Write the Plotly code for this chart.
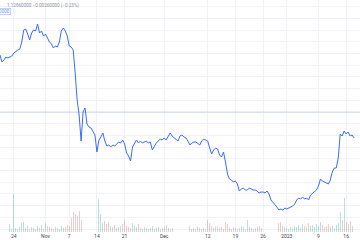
import pandas as pd
import plotly.graph_objects as go

# 12-hour closes (level units, axis hidden in the crop)
close = [185,178,180,183,182,183,184,187,189,190,
         191,198,210,211,206,200,207,210,209,216,
         207,209,204,206,202,198,196,192,194,193,
         198,209,212,209,204,194,193,190,167,140,
         125,99,128,132,116,113,112,108,105,88,
         100,103,107,99,94,95,93,95,94,96,
         98,97,100,96,87,84,79,93,96,100,
         97,99,97,98,99,97,98,90,94,97,
         99,101,100,102,100,104,107,104,102,100,
         99,104,105,103,102,99,95,97,98,98,
         96,95,99,101,100,99,92,86,90,92,
         91,85,83,88,78,66,61,60,58,59,
         56,49,51,52,50,50,52,51,50,50,
         49,47,48,48,47,49,46,40,38,35,
         33,30,31,30,32,31,32,33,34,36,
         40,42,41,43,41,42,40,45,47,48,
         50,54,61,59,58,57,56,60,68,72,
         72,82,106,104,109,106,108,104,105,102]

volume = [3,2,4,2,6,8,3,38,4,3,
          5,9,10,4,6,3,5,4,3,6,
          4,7,3,9,6,5,4,3,5,4,
          3,6,4,5,7,6,14,20,18,16,
          21,12,9,14,10,8,7,6,30,40,
          33,18,9,11,8,10,6,5,7,4,
          5,6,8,12,6,5,4,9,6,5,
          8,4,3,5,4,3,4,6,3,4,
          5,3,4,5,7,4,3,4,3,5,
          4,3,5,4,3,4,6,3,4,3,
          5,4,3,4,3,12,9,6,4,5,
          6,4,5,3,10,8,4,3,5,4,
          3,4,6,5,3,12,5,4,3,4,
          5,6,4,3,16,27,8,5,4,6,
          5,9,10,6,5,4,3,5,4,6,
          5,7,4,8,6,5,9,6,7,5,
          8,6,10,7,5,6,8,5,6,4,
          7,9,20,12,34,10,8,11,6,5]

tick_dates = ["2022-10-24","2022-11-01","2022-11-07","2022-11-14","2022-11-21",
              "2022-12-01","2022-12-12","2022-12-19","2022-12-26","2023-01-01",
              "2023-01-09","2023-01-16"]
tick_text = ["24","Nov","7","14","21","Dec","12","19","26","2023","9","16"]

times = pd.date_range("2022-10-20 12:00", periods=len(close), freq="12h")

vol_colors = []
for i in range(len(close)):
    up = close[i] >= (close[i - 1] if i > 0 else close[i])
    vol_colors.append("rgba(38,166,154,0.32)" if up else "rgba(239,83,80,0.32)")

fig = go.Figure()
fig.add_trace(go.Bar(x=times, y=volume, marker=dict(color=vol_colors, line=dict(width=0)),
                     width=1000 * 3600 * 5, yaxis="y2", hoverinfo="skip"))
fig.add_trace(go.Scatter(x=times, y=close, mode="lines",
                         line=dict(color="#3a6bff", width=1), hoverinfo="skip"))

fig.add_hline(y=128, line=dict(color="rgba(41,98,255,0.22)", width=1))

fig.update_layout(
    width=360, height=240,
    margin=dict(l=0, r=0, t=0, b=8),
    paper_bgcolor="white", plot_bgcolor="white",
    showlegend=False, bargap=0,
    xaxis=dict(range=["2022-10-20 12:00", "2023-01-19 12:00"],
               tickvals=tick_dates, ticktext=tick_text,
               tickfont=dict(size=5, color="#434651", family="Roboto"),
               showgrid=True, gridcolor="#f0f2f7", gridwidth=1,
               ticks="", showline=False, zeroline=False, fixedrange=True),
    yaxis=dict(range=[8, 240], showticklabels=False, showgrid=True,
               gridcolor="#f0f2f7", tick0=128, dtick=11.7, zeroline=False),
    yaxis2=dict(range=[0, 232], overlaying="y", showticklabels=False,
                showgrid=False, zeroline=False),
    font=dict(family="Roboto"),
)

fig.add_annotation(xref="paper", yref="paper", x=5 / 360, y=1 - 5 / 232,
                   xanchor="left", yanchor="middle", showarrow=False,
                   text="1.12860000 \u22120.00260000 (\u22120.23%)",
                   font=dict(size=4.6, color="#8a93a6"))
fig.add_annotation(xref="paper", yref="paper", x=11 / 360, y=1 - 11.5 / 232,
                   xanchor="right", yanchor="middle", showarrow=False,
                   text="0000", bordercolor="#9fb4ee", borderwidth=0.6, borderpad=0.5,
                   font=dict(size=4.6, color="#6f8fe8"))

fig.write_html("out.html")
